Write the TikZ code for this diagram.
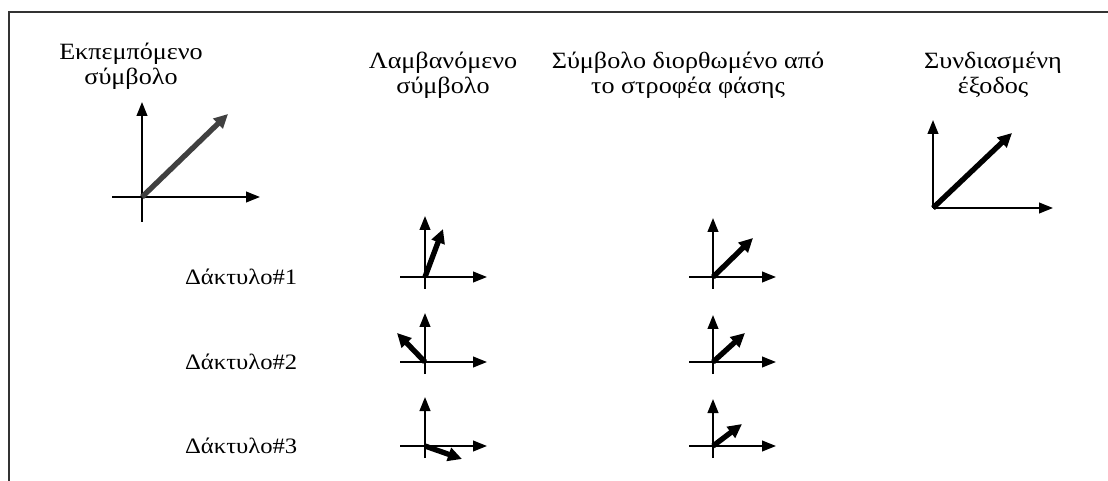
\documentclass[tikz,border=0pt]{standalone}
\usepackage{fontspec}
\setmainfont{Liberation Serif}[FakeStretch=1.12]
\usepackage{tikz}
\usetikzlibrary{arrows.meta, positioning}

\tikzset{
  axis/.style={line width=1.5pt, -{Triangle[length=10.5pt, width=8pt]}},
  phasor/.style={line width=4pt, -{Triangle[length=10.5pt, width=10pt]}},
  heading/.style={align=center, font=\fontsize{17.5}{19}\selectfont},
  finger/.style={anchor=east, font=\fontsize{16.5}{19}\selectfont}
}

\begin{document}
\begin{tikzpicture}[x=0.75pt, y=-0.75pt]
\useasboundingbox (0,0) rectangle (1108,481);
% frame
\draw[line width=1.3pt, black!80] (1108,12) -- (9,12) -- (9,481);

% headings
\node[heading] (tx) at (131,66) {Εκπεμπόμενο\\σύμβολο};
\node[heading] (rx) at (443,75) {Λαμβανόμενο\\σύμβολο};
\node[heading] (corr) at (688,75) {Σύμβολο διορθωμένο από\\το στροφέα φάσης};
\node[heading] (comb) at (993,75) {Συνδιασμένη\\έξοδος};

% transmitted symbol
\coordinate (o0) at (142,197);
\draw[axis] (142,222) -- (142,102);
\draw[axis] (112,197) -- (260,197);
\draw[phasor, black!75] (o0) -- (228,114);

% combined output
\coordinate (o4) at (933,208);
\draw[axis] (o4) -- (933,120);
\draw[axis] (o4) -- (1053,208);
\draw[phasor] (o4) -- (1012,133);

% fingers
\foreach \y/\t/\rx/\ry/\cx/\cy/\n in {277/61/443/229/753/238/1, 362/49/397/333/745/333/2, 446/49/462/459/742/424/3}{
  \node[finger] (f\n) at (302,\y) {Δάκτυλο\#\n};
  % received
  \draw[axis] (425,\y+12) -- (425,\y-\t);
  \draw[axis] (400,\y) -- (487,\y);
  \draw[phasor] (425,\y) -- (\rx,\ry);
  % corrected
  \draw[axis] (713,\y+12) -- (713,\y-\t+2);
  \draw[axis] (689,\y) -- (776,\y);
  \draw[phasor] (713,\y) -- (\cx,\cy);
}
\end{tikzpicture}
\end{document}
